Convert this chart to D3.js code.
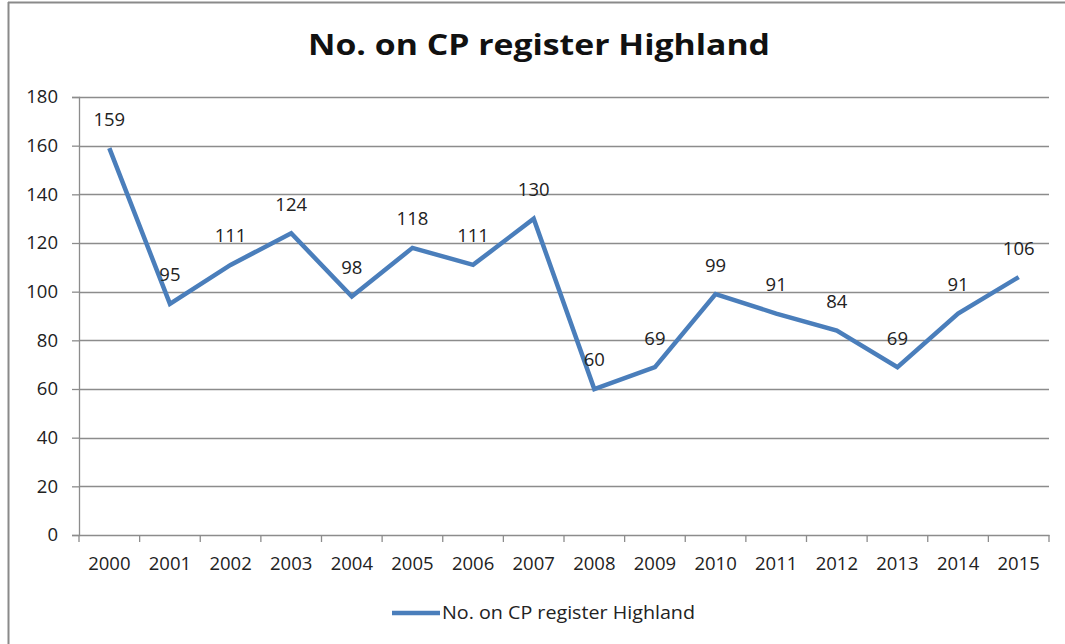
<!DOCTYPE html>
<html><head><meta charset="utf-8">
<script src="https://d3js.org/d3.v7.min.js"></script>
<style>body{margin:0;background:#fff}svg{display:block}</style>
</head><body>
<svg id="c" width="1065" height="644"></svg>
<script>
const years = ["2000","2001","2002","2003","2004","2005","2006","2007","2008","2009","2010","2011","2012","2013","2014","2015"];
const values = [159,95,111,124,98,118,111,130,60,69,99,91,84,69,91,106];
const yTicks = [0,20,40,60,80,100,120,140,160,180];
const seriesName = "No. on CP register Highland";
const titleText = "No. on CP register Highland";

(function(){
const svg = d3.select("#c");
const font = "'Open Sans', sans-serif";
const fs = 18.5;
const pLeft = 79, pRight = 1049, pTop = 97, pBottom = 535;

// outer frame
svg.append("line").attr("x1",8).attr("x2",1065).attr("y1",2.5).attr("y2",2.5).attr("stroke","#8a8a8a").attr("stroke-width",2);
svg.append("line").attr("x1",8.5).attr("x2",8.5).attr("y1",2).attr("y2",644).attr("stroke","#8a8a8a").attr("stroke-width",2);

const x = d3.scaleBand().domain(years).range([pLeft,pRight]).paddingInner(0).paddingOuter(0);
const y = d3.scaleLinear().domain([0,180]).range([pBottom,pTop]);

// gridlines
svg.append("g").selectAll("line").data(yTicks.filter(d=>d>0)).join("line")
  .attr("x1",pLeft).attr("x2",pRight).attr("y1",d=>Math.round(y(d))+0.5).attr("y2",d=>Math.round(y(d))+0.5)
  .attr("stroke","#8c8c8c").attr("stroke-width",1.3);

// y axis
const ya = svg.append("g").attr("transform",`translate(${pLeft},0)`)
  .call(d3.axisLeft(y).tickValues(yTicks).tickSize(7).tickPadding(14));
ya.select(".domain").attr("stroke","#8c8c8c").attr("stroke-width",1.3);
ya.selectAll(".tick line").attr("stroke","#8c8c8c").attr("stroke-width",1.3);
ya.selectAll("text").attr("font-family",font).attr("font-size",fs).attr("fill","#222");

// x axis
const xa = svg.append("g").attr("transform",`translate(0,${pBottom})`)
  .call(d3.axisBottom(x).tickSize(0).tickPadding(22));
xa.select(".domain").attr("stroke","#8c8c8c").attr("stroke-width",1.3);
xa.selectAll("text").attr("font-family",font).attr("font-size",fs).attr("fill","#222");
const bounds = years.map(d=>x(d)).concat([pRight]);
svg.append("g").selectAll("line").data(bounds).join("line")
  .attr("x1",d=>d).attr("x2",d=>d).attr("y1",pBottom).attr("y2",pBottom+7)
  .attr("stroke","#8c8c8c").attr("stroke-width",1.3);

// line
const cx = d=>x(d)+x.bandwidth()/2;
const line = d3.line().x((d,i)=>cx(years[i])).y(d=>y(d));
svg.append("path").datum(values).attr("d",line).attr("fill","none")
  .attr("stroke","#4a7ebb").attr("stroke-width",4.5).attr("stroke-linejoin","miter");

// data labels
svg.append("g").selectAll("text").data(values).join("text")
  .attr("x",(d,i)=>cx(years[i])).attr("y",d=>y(d)-29).attr("dy","0.35em")
  .attr("text-anchor","middle").attr("font-family",font).attr("font-size",fs).attr("fill","#222")
  .text(d=>d);

// title
svg.append("text").attr("x",539).attr("y",55).attr("text-anchor","middle")
  .attr("font-family",font).attr("font-weight","bold").attr("font-size",29).attr("fill","#111")
  .attr("textLength",462).attr("lengthAdjust","spacingAndGlyphs")
  .text(titleText);

// legend
svg.append("line").attr("x1",392).attr("x2",440).attr("y1",613).attr("y2",613)
  .attr("stroke","#4a7ebb").attr("stroke-width",4.5);
svg.append("text").attr("x",442).attr("y",613).attr("dy","0.35em")
  .attr("font-family",font).attr("font-size",fs).attr("fill","#222")
  .attr("textLength",253).attr("lengthAdjust","spacingAndGlyphs").text(seriesName);
})();
</script>
</body></html>
